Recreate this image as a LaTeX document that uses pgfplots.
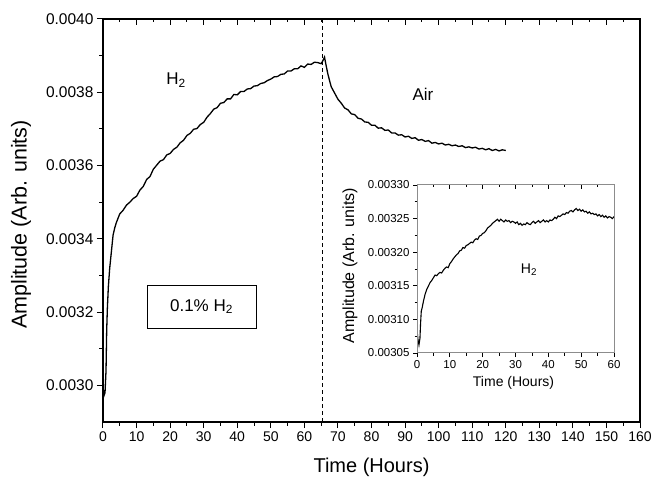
\documentclass[border=0pt]{standalone}
\usepackage{fontspec}
\setmainfont{Liberation Sans}
\usepackage{pgfplots}
\pgfplotsset{compat=1.18}
\usepackage{pgfplotstable}

\pgfplotstableread{
t v
0 0.002995
0.3 0.002972
0.6 0.002980
0.9 0.003040
1.1 0.003150
1.3 0.003210
1.6 0.003270
2 0.003320
2.5 0.003365
3 0.003410
3.5 0.003430
4 0.003445
5 0.003468
6 0.003478
7 0.003492
8 0.003500
9 0.003510
10 0.003516
11 0.003533
12 0.003543
13 0.003562
14 0.003570
15 0.003590
16 0.003601
17 0.003612
18 0.003616
19 0.003629
20 0.003633
21 0.003644
22 0.003650
23 0.003662
24 0.003669
25 0.003682
26 0.003688
27 0.003699
28 0.003701
29 0.003712
30 0.003718
31 0.003732
32 0.003742
33 0.003754
34 0.003758
35 0.003770
36 0.003772
37 0.003782
38 0.003782
39 0.003794
40 0.003793
41 0.003802
42 0.003802
43 0.003809
44 0.003810
45 0.003817
46 0.003818
47 0.003824
48 0.003826
49 0.003832
50 0.003836
51 0.003842
52 0.003843
53 0.003849
54 0.003850
55 0.003858
56 0.003858
57 0.003864
58 0.003864
59 0.003872
60 0.003868
61 0.003877
62 0.003876
63 0.003882
64 0.003881
65 0.003878
65.5 0.003886
66 0.003896
66.5 0.003872
67 0.003850
67.5 0.003832
68 0.003815
69 0.003798
70 0.003781
71 0.003770
72 0.003757
73 0.003752
74 0.003741
75 0.003739
76 0.003729
77 0.003727
78 0.003719
79 0.003718
80 0.003710
81 0.003710
82 0.003702
83 0.003703
84 0.003696
85 0.003697
86 0.003689
87 0.003689
88 0.003683
89 0.003684
90 0.003678
91 0.003680
92 0.003674
93 0.003676
94 0.003669
95 0.003671
96 0.003666
97 0.003668
98 0.003661
99 0.003663
100 0.003659
101 0.003661
102 0.003656
103 0.003658
104 0.003654
105 0.003656
106 0.003652
107 0.003654
108 0.003649
109 0.003651
110 0.003648
111 0.003650
112 0.003645
113 0.003647
114 0.003643
115 0.003646
116 0.003641
117 0.003644
118 0.003640
119 0.003643
120 0.003641
}\maindata

\pgfplotstableread{
t v
0 0.003085
0.3 0.003070
0.6 0.003062
0.9 0.003072
1.1 0.003095
1.3 0.003112
1.6 0.003118
2 0.003128
2.5 0.003138
3 0.003145
3.5 0.003150
4 0.003155
4.5 0.003158
5 0.003162
5.5 0.003166
6 0.003165
6.5 0.003168
7 0.003170
7.5 0.003169
8 0.003173
8.5 0.003176
9 0.003178
9.5 0.003177
10 0.003183
10.5 0.003186
11 0.003190
11.5 0.003193
12 0.003196
12.5 0.003198
13 0.003202
13.5 0.003203
14 0.003207
14.5 0.003206
15 0.003210
15.5 0.003211
16 0.003213
16.5 0.003215
17 0.003214
17.5 0.003218
18 0.003220
18.5 0.003219
19 0.003224
19.5 0.003225
20 0.003228
20.5 0.003229
21 0.003232
21.5 0.003236
22 0.003238
22.5 0.003240
23 0.003243
23.5 0.003245
24 0.003247
24.5 0.003249
25 0.003246
25.5 0.003249
26 0.003247
26.5 0.003245
27 0.003248
27.5 0.003246
28 0.003247
28.5 0.003244
29 0.003246
29.5 0.003245
30 0.003243
30.5 0.003245
31 0.003241
31.5 0.003243
32 0.003240
32.5 0.003242
33 0.003241
33.5 0.003244
34 0.003242
34.5 0.003241
35 0.003244
35.5 0.003246
36 0.003243
36.5 0.003245
37 0.003247
37.5 0.003244
38 0.003246
38.5 0.003248
39 0.003245
39.5 0.003247
40 0.003245
40.5 0.003248
41 0.003247
41.5 0.003249
42 0.003252
42.5 0.003250
43 0.003254
43.5 0.003253
44 0.003255
44.5 0.003257
45 0.003256
45.5 0.003259
46 0.003258
46.5 0.003261
47 0.003262
47.5 0.003260
48 0.003263
48.5 0.003265
49 0.003262
49.5 0.003264
50 0.003261
50.5 0.003263
51 0.003260
51.5 0.003261
52 0.003258
52.5 0.003260
53 0.003257
53.5 0.003258
54 0.003256
54.5 0.003257
55 0.003254
55.5 0.003256
56 0.003253
56.5 0.003255
57 0.003252
57.5 0.003254
58 0.003251
58.5 0.003253
59 0.003252
59.5 0.003250
60 0.003253
}\insetdata

\pgfplotsset{
  mainax/.style={
    at={(0bp,0bp)}, anchor=south west, scale only axis,
    width=537bp, height=403bp,
    xmin=0, xmax=160, ymin=0.0029, ymax=0.0040,
    xtick={0,10,...,160}, minor x tick num=1,
    ytick={0.0030,0.0032,0.0034,0.0036,0.0038,0.0040}, minor y tick num=1,
    scaled y ticks=false,
    axis line style={line width=1.2bp},
    every tick/.style={black, line width=1bp},
    major tick length=6bp, minor tick length=3.5bp,
  },
  insetax/.style={
    at={(314bp,69bp)}, anchor=south west, scale only axis,
    width=197bp, height=168bp,
    xmin=0, xmax=60, ymin=0.00305, ymax=0.00330,
    xtick={0,10,...,60}, minor x tick num=1,
    ytick={0.00305,0.00310,0.00315,0.00320,0.00325,0.00330}, minor y tick num=1,
    scaled y ticks=false,
    axis line style={line width=1bp, black!45},
    every tick/.style={black, line width=0.7bp},
    major tick length=4bp, minor tick length=2.5bp,
  },
}

\begin{document}
\begin{tikzpicture}
\path[use as bounding box] (-103bp,-56bp) rectangle (549bp,422bp);

\begin{axis}[mainax,
  tick align=outside, xtick pos=bottom, ytick pos=left,
  /pgf/number format/assume math mode=true,
  xticklabel style={font=\fontsize{14bp}{16bp}\selectfont},
  yticklabel style={font=\fontsize{15.5bp}{17bp}\selectfont,
    /pgf/number format/.cd, fixed, fixed zerofill, precision=4},
  xlabel={Time (Hours)}, ylabel={Amplitude (Arb. units)},
  label style={font=\fontsize{20bp}{24bp}\selectfont},
  x label style={at={(axis description cs:0.5,-0.1117)}, anchor=center},
  y label style={at={(axis description cs:-0.1527,0.49)}, anchor=center,
                 font=\fontsize{21.5bp}{24bp}\selectfont},
]
\addplot[black, line width=1.3bp] table[x=t, y=v] {\maindata};
\addplot[black, line width=0.9bp, dash pattern=on 4bp off 3bp] coordinates {(65.5,0.0029) (65.5,0.0040)};
\node[font=\fontsize{17bp}{20bp}\selectfont] at (axis cs:21.75,0.003833) {H\textsubscript{2}};
\node[font=\fontsize{17bp}{20bp}\selectfont] at (axis cs:95.35,0.003793) {Air};
\node[draw, line width=0.8bp, minimum width=109bp, minimum height=43bp,
      font=\fontsize{17bp}{20bp}\selectfont] at (axis cs:29.35,0.003215) {0.1\% H\textsubscript{2}};
\end{axis}

\begin{axis}[mainax,
  tick align=inside, xtick pos=top, ytick=\empty, xticklabels={},
]
\end{axis}

\begin{axis}[insetax,
  tick align=outside, xtick pos=bottom, ytick pos=left,
  /pgf/number format/assume math mode=true,
  tick label style={font=\fontsize{11.5bp}{13bp}\selectfont},
  yticklabel style={/pgf/number format/.cd, fixed, fixed zerofill, precision=5},
  xlabel={Time (Hours)}, ylabel={Amplitude (Arb. units)},
  label style={font=\fontsize{14bp}{16bp}\selectfont},
  x label style={at={(axis description cs:0.49,-0.179)}, anchor=center},
  y label style={at={(axis description cs:-0.34,0.52)}, anchor=center,
                 font=\fontsize{16bp}{18bp}\selectfont},
]
\addplot[black, line width=1.1bp] table[x=t, y=v] {\insetdata};
\node[font=\fontsize{14bp}{16bp}\selectfont] at (axis cs:34.1,0.0031735) {H\textsubscript{2}};
\end{axis}

\begin{axis}[insetax,
  tick align=inside, xtick pos=top, ytick=\empty, xticklabels={},
]
\end{axis}
\end{tikzpicture}
\end{document}
